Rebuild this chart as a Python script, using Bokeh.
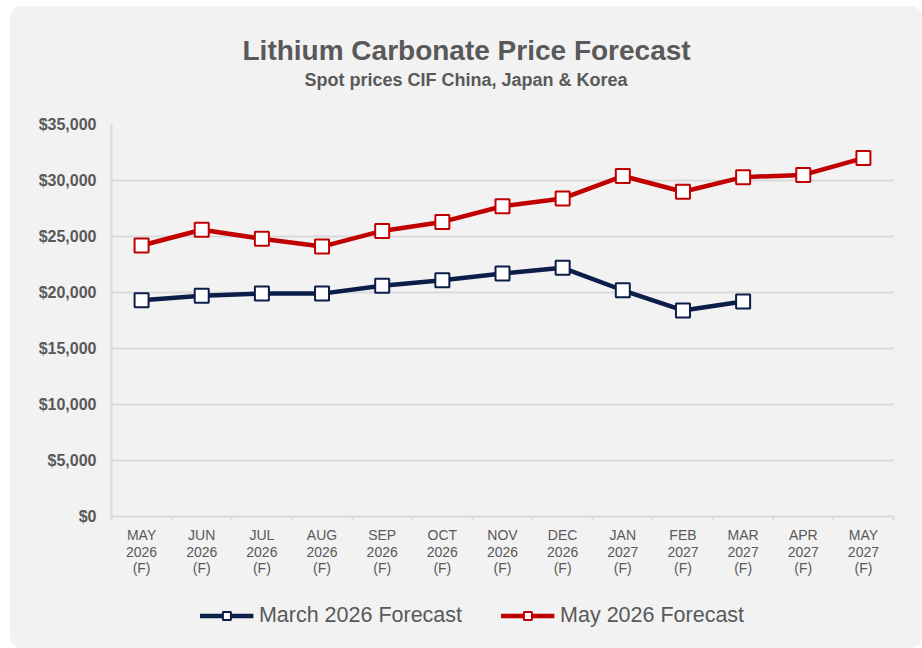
from bokeh.plotting import figure
from bokeh.layouts import column
from bokeh.models import (Range1d, FixedTicker, NumeralTickFormatter, Legend, LegendItem, Title, LinearAxis)
from bokeh.embed import file_html
from bokeh.resources import INLINE

month_names = ["MAY", "JUN", "JUL", "AUG", "SEP", "OCT", "NOV", "DEC", "JAN", "FEB", "MAR", "APR", "MAY"]
years = ["2026", "2026", "2026", "2026", "2026", "2026", "2026", "2026", "2027", "2027", "2027", "2027", "2027"]
flags = ["(F)"] * 13
march_forecast = [19300, 19700, 19900, 19900, 20600, 21100, 21700, 22200, 20200, 18400, 19200]
may_forecast = [24200, 25600, 24800, 24100, 25500, 26300, 27700, 28400, 30400, 29000, 30300, 30500, 32000]
y_ticks = [0, 5000, 10000, 15000, 20000, 25000, 30000, 35000]
title_text = "Lithium Carbonate Price Forecast"
subtitle_text = "Spot prices CIF China, Japan & Korea"
series_names = ["March 2026 Forecast", "May 2026 Forecast"]

GRAY_TXT = "#595959"
GRID = "#d9d9d9"
BG = "#f2f2f2"
RED = "#c00000"
NAVY = "#0b1d48"
FONT = "Liberation Sans"

n = len(month_names)
centers = [i + 0.5 for i in range(n)]
xm = centers[:len(march_forecast)]
xy = centers[:len(may_forecast)]

p = figure(frame_width=782, frame_height=392, output_backend="svg", toolbar_location=None, title=None,
           x_range=Range1d(0, n), y_range=Range1d(y_ticks[0], y_ticks[-1]))
p.margin = 0
p.background_fill_color = BG
p.border_fill_color = BG
p.outline_line_color = None
p.min_border_left = 101
p.min_border_right = 29
p.min_border_top = 118
p.min_border_bottom = 66

xa = p.below[0]

# invisible spacer between the frame and the titles (one background-coloured tick, empty label)
spacer = LinearAxis(ticker=FixedTicker(ticks=centers[:1]), major_label_overrides={centers[0]: ""},
                    axis_line_color=None, major_tick_line_color=BG,
                    minor_tick_line_color=None, major_tick_in=0, major_tick_out=35,
                    minor_tick_in=0, minor_tick_out=0, major_label_standoff=0,
                    major_label_text_font_size="1px")
p.add_layout(spacer, "above")

sub = Title(text=subtitle_text, align="left", offset=193, text_font=FONT,
            text_font_size="18px", text_font_style="bold", text_color=GRAY_TXT, standoff=0)
main = Title(text=title_text, align="left", offset=131, text_font=FONT,
             text_font_size="28px", text_font_style="bold", text_color=GRAY_TXT, standoff=4)
p.add_layout(sub, "above")
p.add_layout(main, "above")

# y axis
p.yaxis.ticker = FixedTicker(ticks=y_ticks)
p.yaxis.formatter = NumeralTickFormatter(format="$0,0")
p.yaxis.major_label_text_font = FONT
p.yaxis.major_label_text_font_size = "16px"
p.yaxis.major_label_text_font_style = "bold"
p.yaxis.major_label_text_color = GRAY_TXT
p.yaxis.major_tick_line_color = None
p.yaxis.major_tick_out = 0
p.yaxis.minor_tick_line_color = None
p.yaxis.axis_line_color = GRID
p.yaxis.axis_line_width = 2
p.yaxis.major_label_standoff = 15

# x axis: three label rows
def style_row(ax, labels, standoff):
    ax.ticker = FixedTicker(ticks=centers)
    ax.major_label_overrides = {c: m for c, m in zip(centers, labels)}
    ax.major_label_text_font = FONT
    ax.major_label_text_font_size = "14px"
    ax.major_label_text_color = GRAY_TXT
    ax.major_tick_line_color = None
    ax.major_tick_out = 0
    ax.major_tick_in = 0
    ax.minor_tick_line_color = None
    ax.minor_tick_out = 0
    ax.minor_tick_in = 0
    ax.axis_line_color = None
    ax.major_label_standoff = standoff

style_row(xa, month_names, 6)
xa.ticker = FixedTicker(ticks=centers, minor_ticks=list(range(n + 1)))
xa.minor_tick_line_color = GRID
xa.minor_tick_line_width = 2
xa.minor_tick_out = 4
xa.axis_line_color = GRID
xa.axis_line_width = 2

xa2 = LinearAxis()
style_row(xa2, years, 1)
p.add_layout(xa2, "below")
xa3 = LinearAxis()
style_row(xa3, flags, 0)
p.add_layout(xa3, "below")

p.xgrid.grid_line_color = None
p.ygrid.grid_line_color = GRID
p.ygrid.grid_line_width = 2

def draw(fig):
    r1l = fig.line(xm, march_forecast, line_color=NAVY, line_width=4.5)
    r1m = fig.scatter(xm, march_forecast, marker="square", size=14,
                      fill_color="white", line_color=NAVY, line_width=2)
    r2l = fig.line(xy, may_forecast, line_color=RED, line_width=4.5)
    r2m = fig.scatter(xy, may_forecast, marker="square", size=14,
                      fill_color="white", line_color=RED, line_width=2)
    return [r1l, r1m], [r2l, r2m]

draw(p)

# legend strip underneath (same series, drawn outside its visible ranges)
lp = figure(width=912, height=66, output_backend="svg", toolbar_location=None, title=None,
            x_range=Range1d(-20, -19), y_range=Range1d(-20, -19),
            x_axis_location=None, y_axis_location=None)
lp.margin = 0
lp.min_border = 0
lp.min_border_left = 0
lp.min_border_top = 0
lp.min_border_bottom = 0
lp.min_border_right = 90
lp.background_fill_color = BG
lp.border_fill_color = BG
lp.outline_line_color = None
lp.grid.visible = False
g1, g2 = draw(lp)
legend = Legend(items=[LegendItem(label=series_names[0], renderers=g1),
                       LegendItem(label=series_names[1], renderers=g2)],
                orientation="horizontal", location="center",
                background_fill_alpha=0, border_line_color=None,
                label_text_font=FONT, label_text_font_size="21.5px",
                label_text_color=GRAY_TXT, glyph_width=54, glyph_height=20,
                spacing=38, label_standoff=6, margin=0, padding=0)
lp.add_layout(legend, "center")

layout = column(p, lp, spacing=0, margin=(6, 0, 0, 10),
                styles={"border-radius": "12px", "overflow": "hidden", "background-color": BG})

open("out.html", "w").write(file_html(layout, INLINE))
